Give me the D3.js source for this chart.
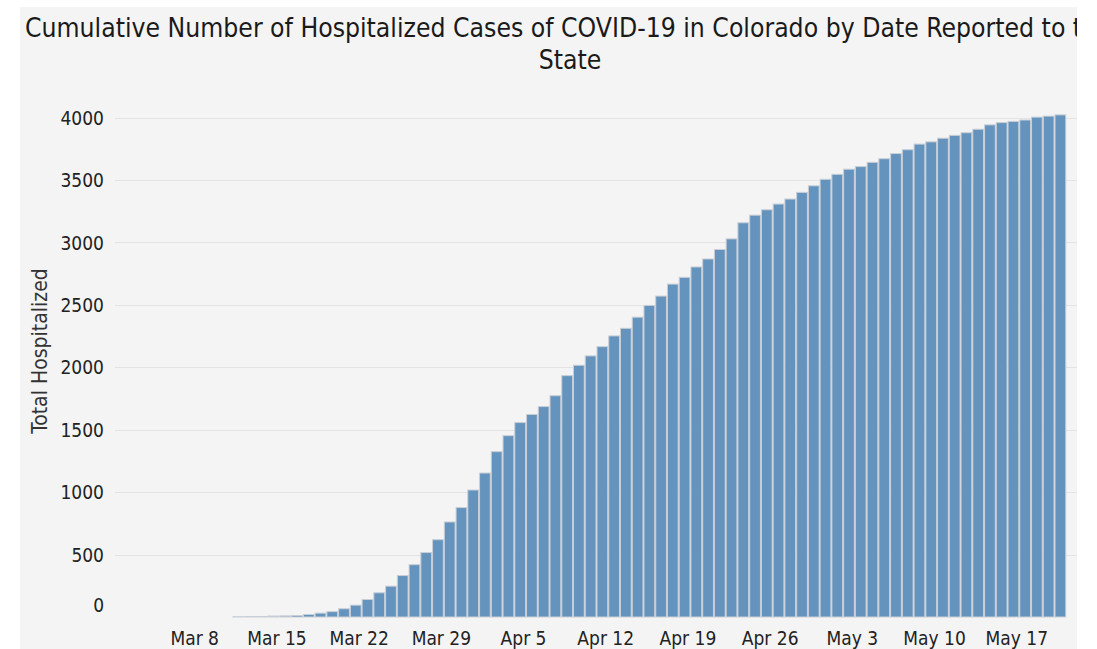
<!DOCTYPE html>
<html>
<head>
<meta charset="utf-8">
<script src="https://cdn.jsdelivr.net/npm/d3@7"></script>
<style>
  body { margin: 0; background: #fff; }
  svg text { font-family: "DejaVu Sans Condensed", "DejaVu Sans", sans-serif; font-stretch: condensed; }
</style>
</head>
<body>
<div id="chart"></div>
<script>
// cumulative hospitalized, one value per day starting Mar 11 2020
const firstDay = new Date(2020, 2, 11);
const hospitalized = [
  2, 3, 4, 8, 9, 12, 20, 31, 43, 66,
  95, 140, 194, 247, 332, 419, 516, 619, 761, 876,
  1017, 1153, 1324, 1452, 1557, 1622, 1685, 1772, 1933, 2016,
  2091, 2165, 2251, 2312, 2401, 2495, 2570, 2666, 2720, 2803,
  2867, 2943, 3028, 3157, 3218, 3261, 3307, 3347, 3400, 3453,
  3505, 3545, 3586, 3607, 3641, 3670, 3711, 3742, 3787, 3805,
  3834, 3857, 3878, 3906, 3941, 3959, 3969, 3980, 4003, 4011,
  4021
];
const dates = hospitalized.map((v, i) => d3.timeDay.offset(firstDay, i));
const yTicks = [0, 500, 1000, 1500, 2000, 2500, 3000, 3500, 4000];
const xTicks = ["2020-03-08", "2020-03-15", "2020-03-22", "2020-03-29", "2020-04-05",
  "2020-04-12", "2020-04-19", "2020-04-26", "2020-05-03", "2020-05-10", "2020-05-17"];

const W = 1097, H = 649;
const panel = { left: 20, top: 7, right: 1077 };
const plot = { left: 115, right: 1078, top: 117.5, bottom: 617 };

const svg = d3.select("#chart").append("svg")
  .attr("width", W)
  .attr("height", H);

svg.append("defs").append("clipPath").attr("id", "panelClip")
  .append("rect")
  .attr("x", panel.left).attr("y", panel.top)
  .attr("width", panel.right - panel.left).attr("height", H - panel.top);

const g = svg.append("g").attr("clip-path", "url(#panelClip)");

g.append("rect")
  .attr("x", panel.left).attr("y", panel.top)
  .attr("width", panel.right - panel.left).attr("height", H - panel.top)
  .attr("fill", "#f4f4f4");

// title (first line runs past the panel on the right, clipped like the original)
g.append("text")
  .attr("x", 25).attr("y", 37)
  .attr("font-size", 26.3)
  .attr("fill", "#1a1a1a")
  .text("Cumulative Number of Hospitalized Cases of COVID-19 in Colorado by Date Reported to the");
g.append("text")
  .attr("x", 570).attr("y", 69)
  .attr("text-anchor", "middle")
  .attr("font-size", 26.3)
  .attr("fill", "#1a1a1a")
  .text("State");

const x = d3.scaleTime()
  .domain([new Date(2020, 2, 1), new Date(2020, 4, 22)])
  .range([plot.left, plot.right]);

const y = d3.scaleLinear()
  .domain([0, 4000])
  .range([plot.bottom, plot.top]);

// gridlines
g.append("g")
  .selectAll("line")
  .data(yTicks.filter(d => d > 0))
  .enter()
  .append("line")
  .attr("x1", plot.left)
  .attr("x2", panel.right)
  .attr("y1", d => Math.round(y(d)) + 0.5)
  .attr("y2", d => Math.round(y(d)) + 0.5)
  .attr("stroke", "#e3e3e3")
  .attr("stroke-width", 1);

// y axis
const yAxis = g.append("g")
  .attr("transform", "translate(104,0)")
  .call(d3.axisLeft(y).tickValues(yTicks).tickSize(0).tickPadding(0).tickFormat(d3.format("d")));
yAxis.select(".domain").remove();
yAxis.selectAll("text")
  .attr("font-size", 19)
  .attr("fill", "#222")
  .attr("dy", d => d === 0 ? "-0.3em" : "0.35em");

g.append("text")
  .attr("transform", "translate(47," + 351 + ") rotate(-90)")
  .attr("text-anchor", "middle")
  .attr("font-size", 21)
  .attr("font-stretch", "normal")
  .style("font-family", "'DejaVu Sans', sans-serif")
  .attr("fill", "#333")
  .text("Total Hospitalized");

// bars
g.append("g")
  .selectAll("rect")
  .data(hospitalized)
  .enter()
  .append("rect")
  .attr("x", (d, i) => x(dates[i]) + 0.5)
  .attr("width", (d, i) => x(d3.timeDay.offset(dates[i], 1)) - x(dates[i]) - 1)
  .attr("y", d => y(d))
  .attr("height", d => y(0) - y(d))
  .attr("fill", "#6494be")
  .attr("stroke", "#c9ced6")
  .attr("stroke-width", 1);

// x axis
const xAxis = g.append("g")
  .attr("transform", "translate(-3," + 631 + ")")
  .call(d3.axisBottom(x)
    .tickValues(xTicks.map(d => d3.timeParse("%Y-%m-%d")(d)))
    .tickSize(0).tickPadding(0)
    .tickFormat(d3.timeFormat("%b %-d")));
xAxis.select(".domain").remove();
xAxis.selectAll("text")
  .attr("font-size", 19)
  .attr("fill", "#222");
</script>
</body>
</html>
